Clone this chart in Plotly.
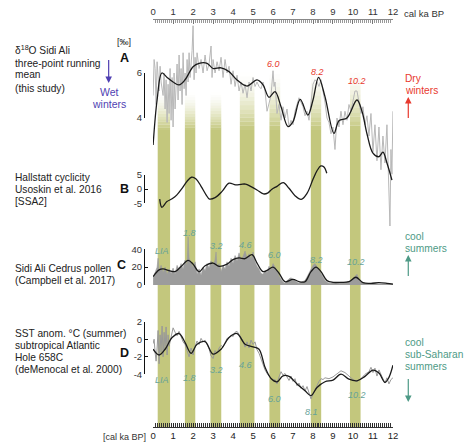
import plotly.graph_objects as go

W, H = 470, 442
ML, MR, MT, MB = 0, 0, 20, 15
X0PX, X12PX = 152.7, 396.7   # pixel positions of 0 and 12 ka

def px_x(px):
    return px / W

def px_y(py):
    return (H - MB - py) / (H - MT - MB)

# ---------------- data ----------------
# Panel A: d18O Sidi Ali
a_raw_ka = [0.0,0.05,0.1,0.15,0.2,0.3,0.35,0.4,0.5,0.55,0.6,0.65,0.7,0.75,0.8,0.85,0.9,0.95,1.0,1.05,
            1.1,1.15,1.2,1.25,1.3,1.35,1.4,1.45,1.5,1.55,1.6,1.65,1.7,1.75,1.8,1.85,1.9,1.95,2.0,2.05,
            2.1,2.15,2.2,2.3,2.4,2.5,2.6,2.7,2.8,2.9,2.95,3.0,3.1,3.2,3.3,3.4,3.5,3.6,3.7,3.8,
            3.9,4.0,4.1,4.2,4.3,4.4,4.5,4.6,4.7,4.8,4.9,5.0,5.1,5.2,5.3,5.4,5.5,5.6,5.7,5.8,
            5.9,6.0,6.05,6.1,6.2,6.3,6.4,6.5,6.6,6.7,6.8,6.9,7.0,7.1,7.2,7.3,7.4,7.5,7.6,7.7,
            7.8,7.9,8.0,8.1,8.2,8.3,8.4,8.5,8.6,8.7,8.8,8.9,9.0,9.1,9.2,9.3,9.4,9.5,9.6,9.7,
            9.8,9.9,10.0,10.1,10.2,10.3,10.4,10.5,10.6,10.7,10.8,10.9,11.0,11.1,11.2,11.3,11.4,11.5,11.6,11.7,
            11.8,11.85,11.9,11.95,12.0]
a_raw = [5.0,6.6,6.2,4.6,6.5,5.2,6.3,5.6,5.0,6.0,4.4,5.7,3.8,5.5,4.2,6.2,3.9,5.8,3.6,6.0,
         4.4,5.2,6.4,4.8,6.8,5.2,6.2,4.6,6.9,5.3,6.0,5.0,6.6,5.6,6.9,5.8,6.4,7.0,8.1,5.7,
         6.7,6.0,6.9,6.2,6.6,6.0,6.8,6.1,6.4,7.2,5.8,6.6,6.0,6.5,6.1,6.7,5.8,6.6,6.0,6.3,
         5.5,6.1,5.4,5.9,5.2,5.6,5.1,5.5,4.9,5.6,5.2,5.8,5.4,5.6,5.4,5.3,5.6,5.2,4.3,4.6,
         5.0,6.1,5.4,5.6,4.2,4.6,3.9,4.5,4.0,4.4,3.6,3.9,3.7,4.3,4.6,4.9,4.7,4.5,4.1,4.3,
         3.9,4.6,5.5,5.7,5.6,5.4,5.7,5.2,4.7,4.0,3.8,3.3,3.6,2.6,4.0,3.6,4.3,3.7,4.3,3.9,
         4.6,4.3,4.8,5.2,5.2,4.7,4.2,4.5,3.7,4.1,3.2,4.2,2.5,3.7,2.1,3.6,1.7,3.2,2.0,3.7,
         0.5,-0.8,2.6,1.5,4.3]
a_smooth_ka = [0.0,0.2,0.44,0.7,1.0,1.3,1.6,2.0,2.3,2.7,3.0,3.4,3.8,4.2,4.7,5.2,5.5,5.8,6.1,6.4,
               6.75,7.0,7.36,7.74,8.0,8.28,8.6,9.05,9.3,9.7,10.2,10.45,10.7,11.0,11.3,11.5,11.7,11.95]
a_smooth = [2.8,4.8,6.0,5.8,5.6,5.47,5.7,6.28,6.43,6.43,6.2,6.23,6.06,5.69,5.42,5.69,5.47,4.92,5.17,4.5,
            3.62,3.84,4.83,4.13,4.8,5.81,4.95,3.32,3.88,4.0,4.8,4.3,3.3,2.44,2.28,2.48,2.0,1.24]

# Panel B: Hallstatt cycle
b_ka = [0.33,0.44,0.69,0.95,1.18,1.45,1.7,1.92,2.15,2.4,2.65,2.82,3.1,3.45,3.8,4.13,4.4,4.62,4.9,5.2,
        5.52,5.75,5.93,6.2,6.51,6.8,7.1,7.41,7.7,8.0,8.2,8.39,8.55,8.69]
b_val = [-3.5,-6.4,-4.4,-3.4,-2.1,0.3,2.8,4.2,3.6,1.0,-2.0,-3.5,-3.0,-0.8,2.1,1.5,1.7,1.8,0.9,-0.3,
         -1.7,-1.3,-0.1,1.0,2.3,0.3,-2.3,-3.6,-1.5,3.5,6.5,8.2,7.8,5.6]

# Panel C: Cedrus pollen
c_raw_ka = [0.0,0.1,0.2,0.25,0.3,0.4,0.5,0.6,0.7,0.8,0.9,1.0,1.1,1.2,1.3,1.4,1.5,1.6,1.7,1.75,
            1.8,1.9,2.0,2.1,2.2,2.3,2.4,2.5,2.6,2.7,2.8,2.9,3.0,3.1,3.15,3.2,3.3,3.4,3.5,3.6,
            3.7,3.8,3.9,4.0,4.1,4.2,4.3,4.4,4.5,4.6,4.7,4.8,4.9,5.0,5.1,5.2,5.3,5.4,5.5,5.6,
            5.7,5.8,5.9,6.0,6.1,6.2,6.3,6.4,6.5,6.6,6.7,6.8,6.9,7.0,7.1,7.2,7.3,7.4,7.5,7.6,
            7.7,7.8,7.9,8.0,8.1,8.2,8.3,8.4,8.5,8.6,8.7,8.8,8.9,9.0,9.2,9.4,9.6,9.8,10.0,10.1,
            10.2,10.3,10.4,10.6,10.8,11.0,11.2,11.5,12.0]
c_raw = [8,14,20,30,16,22,14,20,12,18,13,19,12,22,17,24,18,28,22,54,
         30,25,20,26,12,18,11,20,16,24,19,27,22,28,37,20,24,15,22,18,
         26,21,30,24,33,27,36,28,32,38,30,35,29,37,26,21,18,13,12,16,
         14,21,17,24,20,16,10,6,3,2,5,7,8,6,4,3,2,3,4,5,
         9,14,19,22,24,21,17,13,9,5,3,2,2,3,2,3,3,4,7,10,
         12,6,3,2,1,2,1,1,1]
c_smooth_ka = [0.0,0.3,0.5,0.8,1.1,1.4,1.75,2.0,2.3,2.6,3.0,3.3,3.7,4.0,4.3,4.6,4.95,5.2,5.5,5.75,
               6.0,6.3,6.6,7.0,7.3,7.6,7.9,8.15,8.4,8.7,9.0,9.4,9.8,10.15,10.5,10.9,11.3,11.7,12.0]
c_smooth = [9.4,17,18,16.2,15,20.7,27.5,23.4,15,21.6,24.6,20.8,23.4,28.4,30.3,29.5,34,24.6,15,17,
            20,13.2,3.7,6.4,3.7,3.7,15,20,15,4.9,3,3,3.7,8.7,2.6,1.9,2.6,1.9,1.0]

# Panel D: SST anomaly
d_raw_ka = [0.0,0.05,0.1,0.15,0.2,0.25,0.3,0.35,0.4,0.45,0.5,0.55,0.6,0.65,0.7,0.75,0.8,0.9,1.0,1.1,
            1.2,1.3,1.4,1.5,1.6,1.7,1.8,1.9,2.0,2.1,2.2,2.3,2.4,2.5,2.6,2.7,2.8,2.9,3.0,3.1,
            3.2,3.3,3.4,3.5,3.6,3.7,3.8,3.9,4.0,4.1,4.2,4.3,4.4,4.5,4.6,4.7,4.8,4.9,5.0,5.1,
            5.2,5.3,5.4,5.5,5.6,5.7,5.8,5.9,6.0,6.1,6.2,6.3,6.4,6.5,6.6,6.7,6.8,6.9,7.0,7.1,
            7.2,7.3,7.4,7.5,7.6,7.7,7.8,7.9,8.0,8.1,8.2,8.3,8.4,8.5,8.6,8.8,9.0,9.2,9.4,9.6,
            9.8,10.0,10.2,10.4,10.6,10.8,10.9,11.0,11.1,11.2,11.3,11.4,11.5,11.6,11.7,11.8,11.9,12.0]
d_raw = [-0.5,0.0,-1.5,-2.5,-1.0,1.0,-2.8,0.5,-1.5,1.5,-2.0,0.8,-1.2,1.4,-1.8,0.5,-0.8,0.2,1.3,0.8,
         0.4,0.9,0.3,-0.3,-0.6,-1.3,-2.0,-1.0,-1.8,-0.8,-0.2,-0.6,0.1,-0.3,-0.1,-0.6,-1.1,-1.9,-2.2,-1.3,
         -1.6,-1.0,-0.7,-0.9,-0.3,0.1,0.2,0.5,0.3,0.8,0.9,0.6,0.2,-0.2,-0.9,-0.3,-1.0,-0.1,-0.6,-0.3,
         -1.2,-1.6,-2.3,-2.9,-3.5,-3.9,-4.2,-4.4,-4.7,-4.6,-5.1,-4.3,-3.7,-4.1,-3.9,-4.3,-4.7,-4.2,-4.8,-4.5,
         -5.3,-5.0,-5.6,-5.3,-5.9,-5.4,-6.1,-6.8,-6.3,-5.8,-5.2,-4.8,-4.5,-4.6,-4.4,-4.5,-4.3,-4.0,-3.6,-3.8,
         -4.2,-4.6,-4.8,-4.5,-4.0,-3.7,-3.2,-3.8,-3.3,-4.2,-3.5,-4.0,-4.6,-5.0,-4.4,-5.1,-4.6,-4.4]
d_smooth_ka = [0.0,0.3,0.6,0.95,1.3,1.6,1.9,2.2,2.6,3.0,3.4,3.8,4.2,4.6,5.0,5.3,5.6,5.9,6.2,6.5,
               6.8,7.2,7.6,7.9,8.2,8.6,9.0,9.4,9.8,10.2,10.6,11.0,11.3,11.6,11.8,12.0]
d_smooth = [-1.14,-1.8,-1.14,0.19,0.65,-0.38,-1.6,-0.57,-0.27,-1.7,-1.14,0.19,0.65,-0.57,-0.87,-1.14,-3.2,-4.47,-4.85,-4.17,
            -4.24,-5.1,-5.87,-6.43,-5.5,-4.85,-4.66,-3.98,-4.55,-4.74,-4.24,-3.52,-3.86,-4.92,-4.35,-2.97]

# climatic event bands (ka)
band_start = [0.23, 1.59, 2.87, 4.34, 5.82, 7.89, 9.85]
band_end = [0.85, 2.11, 3.41, 5.07, 6.36, 8.41, 10.38]

x_ticks = list(range(0, 13))
yA_ticks = [4, 6]
yB_ticks = [-5, 0, 5]
yC_ticks = [0, 20, 40]
yD_ticks = [-4, -2, 0, 2]

# text
left_labels = [
    (["δ<sup>18</sup>O Sidi Ali", "three-point running", "mean", "(this study)"], [50, 63, 75, 88]),
    (["Hallstatt cyclicity", "Usoskin et al. 2016", "[SSA2]"], [177, 189, 201.5]),
    (["Sidi Ali Cedrus pollen", "(Campbell et al. 2017)"], [268, 280.5]),
    (["SST anom. °C (summer)", "subtropical Atlantic", "Hole 658C", "(deMenocal et al. 2000)"], [333, 345, 357, 369]),
]
panel_letters = ["A", "B", "C", "D"]
a_events = ["6.0", "8.2", "10.2"]
c_events = ["LIA", "1.8", "3.2", "4.6", "6.0", "8.2", "10.2"]
d_events = ["LIA", "1.8", "3.2", "4.6", "6.0", "8.1", "10.2"]

# ---------------- styles ----------------
FONT = "Liberation Sans, Arial, sans-serif"
BAND = "#c3c77d"
RED = "#e8392e"
BLUE = "#4f3fb2"
TEAL = "#4e9a86"
TEAL_L = "#66a39a"
BLACK = "#1a1a1a"

fig = go.Figure()

# panel y-ranges derived from reference pixel mapping (full-height axes)
def rng(v1, p1, v2, p2):
    s = (p1 - p2) / (v2 - v1)  # px per unit
    top = v1 + (p1 - MT) / s
    bot = v1 - ((H - MB) - p1) / s
    return [bot, top]

rA = rng(6, 73, 4, 118)
rB = rng(5, 175, -5, 203.3)
rC = rng(40, 249.3, 0, 285)
rD = rng(2, 321.7, -4, 374.3)

fig.add_trace(go.Scatter(x=a_raw_ka, y=a_raw, mode="lines", line=dict(color="#b8b8b8", width=1), yaxis="y", hoverinfo="skip"))
fig.add_trace(go.Scatter(x=a_smooth_ka, y=a_smooth, mode="lines", line=dict(color=BLACK, width=1.3, shape="spline", smoothing=1.0), yaxis="y", hoverinfo="skip"))
fig.add_trace(go.Scatter(x=b_ka, y=b_val, mode="lines", line=dict(color=BLACK, width=1.3, shape="spline", smoothing=1.0), yaxis="y2", hoverinfo="skip"))
fig.add_trace(go.Scatter(x=c_raw_ka, y=c_raw, mode="lines", fill="tozeroy", fillcolor="#9c9c9c", line=dict(color="#9c9c9c", width=0.6), yaxis="y3", hoverinfo="skip"))
fig.add_trace(go.Scatter(x=c_smooth_ka, y=c_smooth, mode="lines", line=dict(color=BLACK, width=1.3, shape="spline", smoothing=1.0), yaxis="y3", hoverinfo="skip"))
fig.add_trace(go.Scatter(x=d_raw_ka, y=d_raw, mode="lines", line=dict(color="#999999", width=1), yaxis="y4", hoverinfo="skip"))
fig.add_trace(go.Scatter(x=d_smooth_ka, y=d_smooth, mode="lines", line=dict(color=BLACK, width=1.3, shape="spline", smoothing=1.0), yaxis="y4", hoverinfo="skip"))

# dummy traces for bracket axes and top axis
for ya, yr in zip(["y5", "y6", "y7", "y8"], [yA_ticks, yB_ticks, yC_ticks, yD_ticks]):
    fig.add_trace(go.Scatter(x=[0], y=[yr[0]], mode="markers", marker=dict(opacity=0), yaxis=ya, hoverinfo="skip"))
fig.add_trace(go.Scatter(x=[0], y=[0], mode="markers", marker=dict(opacity=0), xaxis="x2", yaxis="y", hoverinfo="skip"))

# bands (solid lower part + fading top in panel A)
band_tops = [92, 92, 92, 72, 70, 70, 68]
solid_top = 130
shapes = []
for s, e, tp in zip(band_start, band_end, band_tops):
    shapes.append(dict(type="rect", xref="x", yref="paper", x0=s, x1=e, y0=px_y(427), y1=px_y(solid_top),
                       fillcolor=BAND, line=dict(width=0), layer="below"))
    n = 14
    for i in range(n):
        y_lo = solid_top - (solid_top - tp) * i / n
        y_hi = solid_top - (solid_top - tp) * (i + 1) / n
        op = ((n - i - 0.5) / n) ** 1.6
        shapes.append(dict(type="rect", xref="x", yref="paper", x0=s, x1=e, y0=px_y(y_lo), y1=px_y(y_hi),
                           fillcolor=BAND, opacity=op, line=dict(width=0), layer="below"))

ann = []
def text(x, y, t, size=10, color="#222", xanchor="left", bold=False, italic=False):
    if bold:
        t = "<b>" + t + "</b>"
    if italic:
        t = "<i>" + t + "</i>"
    ann.append(dict(x=px_x(x), y=px_y(y), xref="paper", yref="paper", text=t, showarrow=False,
                    xanchor=xanchor, yanchor="middle", font=dict(family=FONT, size=size, color=color)))

for lines, ys in left_labels:
    for t, yy in zip(lines, ys):
        text(10.5, yy, t, size=10.2, color="#222")

text(123, 42, "[‰]", size=9, xanchor="center")
for L, (lx, ly) in zip(panel_letters, [(123.5, 58), (123.5, 189), (121, 265), (123.5, 352.5)]):
    text(lx, ly, L, size=12.5, color="#111", xanchor="center", bold=True)

# top/bottom axis captions
text(406, 14, "cal ka BP", size=9.5, color="#333")
text(148, 437, "[cal ka BP]", size=9, color="#333", xanchor="right")

# side labels
text(108, 92.5, "Wet", size=10.5, color=BLUE, xanchor="center")
text(108, 104, "winters", size=10.5, color=BLUE, xanchor="center")
text(406.5, 78.5, "Dry", size=10.2, color=RED)
text(406.5, 90.5, "winters", size=10.2, color=RED)
text(406.5, 236.5, "cool", size=10.2, color=TEAL)
text(406.5, 248.5, "summers", size=10.2, color=TEAL)
text(406.5, 342.5, "cool", size=10.2, color=TEAL)
text(406.5, 354.5, "sub-Saharan", size=10.2, color=TEAL)
text(406.5, 366.5, "summers", size=10.2, color=TEAL)

def arrow(x, yhead, ytail, color):
    ann.append(dict(x=px_x(x), y=px_y(yhead), xref="paper", yref="paper", text=" ", showarrow=True,
                    ax=0, ay=ytail - yhead, axref="pixel", ayref="pixel", arrowhead=2, arrowsize=1.1,
                    arrowwidth=1.2, arrowcolor=color, font=dict(size=1)))

arrow(107.5, 83, 58, BLUE)
arrow(412.3, 97, 120, RED)
arrow(412.3, 255, 278, TEAL)
arrow(412.3, 402, 377, TEAL)

def kapx(ka):
    return X0PX + ka * (X12PX - X0PX) / 12

for t, ka, yy in zip(a_events, [6.0, 8.2, 10.2], [64, 72, 81]):
    text(kapx(ka) + 0.5, yy, t, size=9, color=RED, xanchor="center", italic=True)
for t, ka, yy in zip(c_events, [0.45, 1.8, 3.15, 4.6, 6.05, 8.2, 10.15], [251, 232.5, 246, 245, 255, 259.5, 261.5]):
    text(kapx(ka), yy, t, size=9, color=TEAL_L, xanchor="center", italic=True)
for t, ka, yy in zip(d_events, [0.45, 1.8, 3.15, 4.6, 6.05, 7.95, 10.2], [379.5, 377.5, 370, 365, 398.5, 411.5, 395]):
    text(kapx(ka), yy, t, size=9, color=TEAL_L, xanchor="center", italic=True)

xdom = [px_x(X0PX), px_x(X12PX)]
brx = px_x(143.5)

def bracket(domain_px, tv):
    return dict(domain=[px_y(domain_px[1]), px_y(domain_px[0])], range=[min(tv), max(tv)], anchor="free", position=brx,
                showline=True, linecolor="#111", linewidth=1, ticks="inside", ticklen=3, tickcolor="#111",
                tickvals=tv, ticktext=[str(v) for v in tv], showgrid=False, zeroline=False, fixedrange=True,
                tickfont=dict(family=FONT, size=9.5, color="#333"))

hidden = dict(visible=False, showgrid=False, zeroline=False, fixedrange=True)

fig.update_layout(
    width=W, height=H, margin=dict(l=ML, r=MR, t=MT, b=MB, pad=0),
    paper_bgcolor="white", plot_bgcolor="rgba(0,0,0,0)", showlegend=False,
    font=dict(family=FONT),
    xaxis=dict(domain=xdom, range=[0, 12], anchor="y", showline=True, linecolor="#333", linewidth=1,
               ticks="inside", ticklen=4, tickcolor="#222", tickwidth=1, tickvals=x_ticks, showgrid=False, zeroline=False,
               minor=dict(ticks="inside", ticklen=4, tickcolor="#333", dtick=0.1, tick0=0, showgrid=False),
               tickfont=dict(family=FONT, size=9.5, color="#222"), fixedrange=True),
    xaxis2=dict(domain=xdom, range=[0, 12], overlaying="x", side="top", anchor="y", showline=True, linecolor="#888",
                linewidth=1, ticks="inside", ticklen=4, tickcolor="#777", tickvals=x_ticks, showgrid=False, zeroline=False,
                minor=dict(ticks="inside", ticklen=2.5, tickcolor="#999", dtick=0.1, tick0=0, showgrid=False),
                tickfont=dict(family=FONT, size=9.5, color="#333"), fixedrange=True),
    yaxis=dict(domain=[0, 1], range=rA, **hidden),
    yaxis2=dict(range=rB, overlaying="y", **hidden),
    yaxis3=dict(range=rC, overlaying="y", **hidden),
    yaxis4=dict(range=rD, overlaying="y", **hidden),
    yaxis5=bracket([73, 118], yA_ticks),
    yaxis6=bracket([175, 203.3], yB_ticks),
    yaxis7=bracket([249.3, 285], yC_ticks),
    yaxis8=bracket([321.7, 374.3], yD_ticks),
    shapes=shapes,
    annotations=ann,
)

fig.write_html("out.html", config={"displayModeBar": False, "staticPlot": True},
               post_script="document.body.style.margin='0px';document.body.style.overflow='hidden';")
